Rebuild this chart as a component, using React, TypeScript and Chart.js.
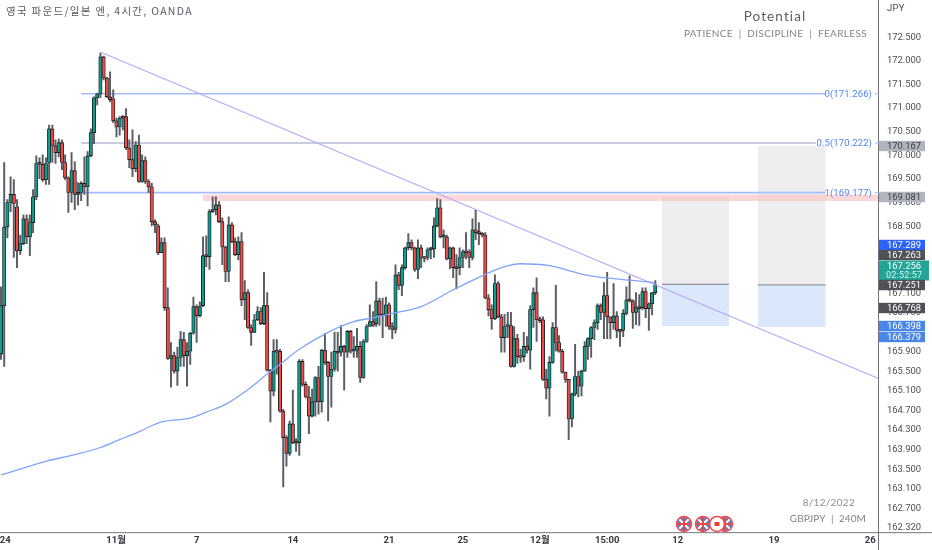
import React, { useEffect, useRef } from "react";
import { Chart, registerables } from "chart.js";

Chart.register(...registerables);

const opens = [165.82,166.82,168.46,168.97,169.14,168.88,167.96,168.11,168.63,168.25,168.55,169.09,169.79,169.77,169.45,169.81,170.52,170.16,170.02,170.23,169.81,169.49,169.18,169.64,169.14,169.18,169.37,169.30,169.95,170.44,171.18,171.26,172.05,171.60,171.20,171.16,170.69,170.56,170.78,170.78,170.12,169.87,169.68,170.18,169.41,169.85,169.41,169.30,168.57,168.48,167.92,168.13,166.78,165.73,165.79,165.47,165.75,166.12,165.79,165.88,166.25,166.80,166.61,166.82,167.86,167.84,168.78,168.82,168.92,168.57,168.04,167.53,168.50,168.15,167.88,168.15,166.94,167.09,166.37,166.27,166.53,166.70,166.45,166.82,165.49,165.06,165.88,165.88,164.65,164.11,163.79,164.39,164.01,164.01,165.67,165.20,164.94,164.55,164.84,165.34,164.84,165.90,165.65,165.36,165.51,165.88,165.86,165.98,165.86,166.29,165.88,165.90,165.98,165.34,166.08,166.39,166.49,166.45,166.92,166.63,166.61,166.84,166.39,166.33,167.46,167.24,167.61,168.02,168.13,168.02,167.57,168.02,167.82,167.82,167.98,168.00,168.48,168.86,168.25,168.25,167.79,168.02,167.61,167.61,167.82,167.94,167.94,167.82,168.40,168.34,168.32,168.29,166.98,166.74,166.55,167.28,166.59,166.16,166.39,166.41,165.57,166.14,165.77,165.77,165.98,165.90,166.74,167.09,166.53,166.53,165.30,165.12,165.65,166.37,166.06,165.88,165.45,165.30,164.49,165.00,165.36,165.16,165.47,165.98,166.14,166.37,166.47,166.82,166.68,167.03,166.59,166.47,166.61,166.31,166.31,166.66,166.94,166.92,166.68,166.78,166.78,167.11,166.76,166.86,167.09];
const closes = [166.82,168.46,168.97,169.14,168.95,167.96,168.11,168.63,168.25,168.55,169.09,169.79,169.77,169.45,169.79,170.52,170.16,170.02,170.23,169.81,169.49,169.18,169.64,169.14,169.18,169.37,169.30,169.95,170.44,171.18,171.26,172.05,171.60,171.20,171.14,170.69,170.56,170.75,170.75,170.12,169.87,169.68,170.18,169.41,169.85,169.41,169.30,168.57,168.50,167.92,168.13,166.78,165.73,165.79,165.47,165.75,166.12,165.79,165.88,166.25,166.80,166.61,166.80,167.86,167.84,168.78,168.82,168.92,168.57,168.04,167.53,168.50,168.15,167.88,168.15,166.94,167.09,166.37,166.27,166.53,166.70,166.45,166.82,165.49,165.06,165.88,165.86,164.65,164.11,163.79,164.39,164.01,164.00,165.67,165.20,164.94,164.55,164.84,165.34,164.84,165.90,165.65,165.36,165.51,165.88,165.84,165.98,165.86,166.29,165.88,165.92,165.98,165.34,166.08,166.39,166.49,166.41,166.92,166.63,166.61,166.84,166.39,166.33,167.46,167.24,167.61,168.02,168.13,168.02,167.57,168.02,167.82,167.80,167.98,168.00,168.48,168.86,168.25,168.27,167.79,168.02,167.61,167.59,167.82,167.94,167.92,167.82,168.40,168.34,168.32,168.29,166.98,166.74,166.55,167.28,166.59,166.16,166.39,166.41,165.57,166.14,165.77,165.75,165.98,165.90,166.74,167.09,166.53,166.51,165.30,165.12,165.65,166.37,166.06,165.88,165.45,165.30,164.49,165.00,165.36,165.16,165.47,165.98,166.14,166.37,166.47,166.82,166.68,167.03,166.59,166.47,166.61,166.31,166.29,166.66,166.94,166.92,166.68,166.78,166.76,167.11,166.76,166.86,167.09,167.256];
const highs = [167.21,169.81,169.03,169.51,169.45,169.03,168.29,168.71,168.71,168.71,169.24,169.95,169.91,169.97,169.91,170.60,170.60,170.29,170.31,170.29,169.97,169.51,170.02,169.83,169.39,169.41,169.93,170.04,170.52,171.20,171.28,172.14,172.07,171.62,171.73,171.35,170.75,170.78,170.80,170.95,170.29,170.50,170.25,170.39,169.97,169.93,169.45,169.37,168.61,168.52,168.23,168.23,167.19,166.06,165.86,165.96,166.29,166.27,166.06,166.27,167.00,166.84,166.90,168.25,168.27,168.82,169.09,169.09,168.99,168.65,168.06,168.67,168.55,168.23,168.25,168.34,167.34,167.15,166.43,166.64,166.80,166.78,167.51,167.09,165.51,166.12,166.12,165.92,164.69,164.15,164.45,165.08,164.09,165.71,165.71,165.25,165.16,165.10,165.36,165.57,165.92,166.25,165.67,165.86,166.27,166.27,166.41,166.00,166.31,166.31,166.18,166.35,166.08,166.12,166.43,166.84,166.70,167.32,166.98,166.98,167.00,166.88,166.47,167.67,167.51,167.67,168.04,168.32,168.19,168.04,168.19,168.08,167.84,168.02,168.04,168.65,169.05,169.03,168.40,168.29,168.04,168.04,167.88,168.02,167.98,168.34,167.98,168.63,168.82,168.55,168.34,168.34,167.05,166.84,167.46,167.32,166.64,166.64,166.68,166.68,166.39,166.23,165.92,166.27,166.18,166.82,167.19,167.40,166.59,166.59,165.51,165.77,166.47,167.24,166.20,165.92,165.45,165.30,165.02,166.02,165.47,165.49,166.08,166.16,166.39,166.53,166.86,166.86,167.30,167.51,166.59,167.28,166.70,166.33,166.74,167.21,167.44,166.94,167.09,167.05,167.19,167.19,166.88,167.09,167.34];
const lows = [165.71,165.57,168.23,168.78,167.82,167.61,167.88,168.09,168.11,167.86,168.34,169.03,169.47,169.41,169.35,169.35,169.81,169.79,169.93,169.66,169.45,168.76,168.97,168.82,168.92,169.01,169.14,168.90,169.93,170.21,171.03,171.18,171.56,171.18,171.09,170.65,170.35,170.39,170.50,170.08,169.70,169.51,169.62,169.39,169.39,169.37,169.18,168.48,168.34,167.88,167.92,166.72,165.71,165.14,165.43,165.18,165.57,165.57,165.16,165.61,166.23,166.06,166.59,166.80,167.63,167.57,168.76,168.71,168.55,167.67,167.32,167.32,168.13,167.86,167.77,166.82,166.53,166.35,166.00,166.27,166.51,166.43,166.43,165.47,164.43,164.96,165.41,164.63,163.11,163.53,163.75,163.99,163.83,163.75,165.16,164.92,164.19,164.53,164.55,164.59,164.63,165.61,164.45,164.73,165.47,165.47,165.78,165.08,165.75,165.84,165.75,165.75,165.24,165.32,166.06,166.39,166.39,166.39,166.41,166.16,166.39,166.33,166.14,166.25,167.15,167.03,167.57,167.98,167.98,167.53,167.38,167.61,167.73,167.77,167.79,167.82,168.46,168.23,168.02,167.77,167.59,167.40,167.17,167.46,167.61,167.79,167.61,167.77,168.19,168.09,168.25,166.96,166.61,166.33,166.53,166.57,165.86,165.86,166.16,165.55,165.55,165.63,165.65,165.67,165.84,165.51,166.37,166.08,166.47,165.28,164.90,164.55,165.63,165.88,165.86,165.43,165.24,164.07,164.33,164.96,164.94,164.96,165.47,165.71,165.75,166.12,166.33,166.53,166.14,166.14,166.14,166.33,166.16,165.98,166.18,166.63,166.90,166.35,166.43,166.41,166.74,166.57,166.31,166.63,167.05];

const maIndex = [0,14,22,31,37,43,50,59,64,70,78,82,87,93,102,110,116,125,131,141,150,157,162,171,177,182,191,204];
const maValues = [163.35,163.63,163.75,163.91,164.07,164.23,164.43,164.51,164.63,164.79,165.14,165.36,165.61,165.92,166.27,166.49,166.57,166.70,166.80,167.15,167.44,167.63,167.69,167.65,167.55,167.46,167.38,167.30];

const trendIndex = [31.5,273.6];
const trendValues = [172.14,165.32];

const fibLevels = [171.266,170.222,169.177];
const fibNames = ["0","0.5","1"];
const fibStart = 25;
const fibEnd = [257,254,257];

const zoneStart = 63;
const zonePrices = [169.135,169.0];

const boxLeft = [206.1,236];
const boxRight = [227,257.1];
const boxTop = [169.081,170.167];
const boxMid = [167.263,167.251];
const boxBottom = [166.398,166.379];

const xTickIndex = [1.3,35.9,61,91,121,144,168,189,211,241,271];
const xTickLabels = ["24","11월","7","14","21","25","12월","15:00","12","19","26"];

const yTicks = [172.5,172,171.5,171,170.5,170,169.5,169,168.5,167.1,166.7,165.9,165.5,165.1,164.7,164.3,163.9,163.5,163.1,162.7,162.32];

const tagLabels = ["170.167","169.081","167.289","167.263","167.256","167.251","166.768","166.398","166.379"];

const title = "영국 파운드/일본 엔, 4시간, OANDA";
const brand = "Potential";
const motto = "PATIENCE  |  DISCIPLINE  |  FEARLESS";
const dateNote = "8/12/2022";
const symbolNote = "GBPJPY  |  240M";
const currency = "JPY";
const countdown = "02:52:57";

const UP = "#0f9d8c";
const DOWN = "#ef4a45";
const FONT = "Roboto, 'Noto Sans', sans-serif";

const text = (ctx: any, s: string, x: number, y: number, font: string, color: string, align: any = "left", spacing = "0px") => {
  ctx.font = font;
  ctx.fillStyle = color;
  ctx.textAlign = align;
  ctx.textBaseline = "middle";
  ctx.letterSpacing = spacing;
  ctx.fillText(s, x, y + 0.8);
  ctx.letterSpacing = "0px";
};

const flag = (ctx: any, x: number, y: number, uk: boolean) => {
  ctx.save();
  ctx.beginPath();
  ctx.arc(x, y, 7, 0, Math.PI * 2);
  ctx.fillStyle = uk ? "#5b7fc4" : "#ffffff";
  ctx.fill();
  ctx.clip();
  if (uk) {
    ctx.strokeStyle = "#ffffff";
    ctx.lineWidth = 2;
    ctx.beginPath();
    ctx.moveTo(x - 7, y - 7);
    ctx.lineTo(x + 7, y + 7);
    ctx.moveTo(x + 7, y - 7);
    ctx.lineTo(x - 7, y + 7);
    ctx.stroke();
    ctx.strokeStyle = "#e64a4a";
    ctx.lineWidth = 2;
    ctx.beginPath();
    ctx.moveTo(x - 7, y);
    ctx.lineTo(x + 7, y);
    ctx.moveTo(x, y - 7);
    ctx.lineTo(x, y + 7);
    ctx.stroke();
  } else {
    ctx.fillStyle = "#ef3b3b";
    ctx.fillRect(x - 2.5, y - 2, 5, 4);
  }
  ctx.restore();
  ctx.beginPath();
  ctx.arc(x, y, 7.5, 0, Math.PI * 2);
  ctx.strokeStyle = "#f0484d";
  ctx.lineWidth = 1.5;
  ctx.stroke();
};

const zonesPlugin = {
  id: "zones",
  beforeDatasetsDraw(chart: any) {
    const { ctx, scales: { x, y }, chartArea: a } = chart;
    ctx.save();
    boxLeft.forEach((_, k) => {
      const l = x.getPixelForValue(boxLeft[k]);
      const r = x.getPixelForValue(boxRight[k]);
      const t = y.getPixelForValue(boxTop[k]);
      const m = y.getPixelForValue(boxMid[k]);
      const b = y.getPixelForValue(boxBottom[k]);
      ctx.fillStyle = "#eeeef1";
      ctx.fillRect(l, t, r - l, m - t);
      ctx.fillStyle = "#dbe7fb";
      ctx.fillRect(l, m, r - l, b - m);
      ctx.fillStyle = "#9a9ca3";
      ctx.fillRect(l, m - 0.7, r - l, 1.4);
    });
    const zt = y.getPixelForValue(zonePrices[0]);
    const zb = y.getPixelForValue(zonePrices[1]);
    const zl = x.getPixelForValue(zoneStart);
    ctx.fillStyle = "rgba(250,190,190,0.62)";
    ctx.fillRect(zl, zt, a.right - zl, zb - zt);
    ctx.restore();
  },
};

const overlayPlugin = {
  id: "overlay",
  afterDraw(chart: any) {
    const { ctx, scales: { y }, chartArea: a, width, height } = chart;
    ctx.save();
    ctx.fillStyle = "#8a8d94";
    ctx.fillRect(0, a.bottom - 0.5, width, 1.2);
    ctx.fillStyle = "#6f727a";
    ctx.fillRect(a.right - 0.5, 0, 1, height);

    text(ctx, title, 6, 10, "10.5px 'Noto Sans CJK KR', sans-serif", "#555a63", "left", "1.3px");
    text(ctx, brand, 775, 16, "13.5px Lato, sans-serif", "#5a5d64", "center", "1.1px");
    text(ctx, motto, 867, 33, "10px Lato, sans-serif", "#80848c", "right", "0.35px");
    text(ctx, dateNote, 855, 502, "10px Lato, sans-serif", "#8a8d94", "right", "0.3px");
    text(ctx, symbolNote, 866, 518, "10px Lato, sans-serif", "#7e8188", "right", "0.1px");
    text(ctx, currency, 887, 8, "9.5px " + FONT, "#444850", "left", "0.3px");

    fibLevels.forEach((lvl, k) => {
      const py = y.getPixelForValue(lvl);
      text(ctx, fibNames[k] + "(" + lvl.toFixed(3) + ")", 872, py, "9.5px " + FONT, "#4f86f7", "right", "0.1px");
      ctx.fillStyle = "#9db8f5";
      ctx.fillRect(875, py - 0.5, 4, 1);
    });

    const tagStyle = [
      { cy: 146, bg: "#b2b5be", fg: "#3a3d45" },
      { cy: 197, bg: "#b2b5be", fg: "#3a3d45" },
      { cy: 245, bg: "#2962ff", fg: "#ffffff" },
      { cy: 255, bg: "#4f5157", fg: "#ffffff" },
      { cy: 266, bg: "#22a596", fg: "#ffffff" },
      { cy: 285, bg: "#4f5157", fg: "#ffffff" },
      { cy: 308, bg: "#4f5157", fg: "#ffffff" },
      { cy: 326, bg: "#4a86e8", fg: "#ffffff" },
      { cy: 337, bg: "#4a86e8", fg: "#ffffff" },
    ];
    tagLabels.forEach((lab, k) => {
      const s = tagStyle[k];
      if (k === 4) {
        ctx.fillStyle = s.bg;
        ctx.fillRect(879, 260.5, 50, 20);
        text(ctx, lab, 887, 265.5, "9.4px " + FONT, s.fg, "left");
        text(ctx, countdown, 886, 275, "9px " + FONT, "#d8f3ef", "left", "0.2px");
      } else {
        ctx.fillStyle = s.bg;
        ctx.fillRect(879, s.cy - 5.2, 46, 10.4);
        text(ctx, lab, 887, s.cy - 0.3, "9.4px " + FONT, s.fg, "left");
      }
    });

    flag(ctx, 725, 524, true);
    flag(ctx, 684, 524, true);
    flag(ctx, 703, 524, true);
    flag(ctx, 717, 524, false);
    ctx.restore();
  },
};

const noPad = (s: any) => {
  s.paddingTop = 0;
  s.paddingBottom = 0;
  s.paddingLeft = 0;
  s.paddingRight = 0;
};

export default function App() {
  const ref = useRef<HTMLCanvasElement>(null);
  useEffect(() => {
    if (!ref.current) return;
    const idx = opens.map((_, i) => i);
    const lineBase = { type: "line", pointRadius: 0, fill: false, order: -1 };
    const chart = new Chart(ref.current, {
      type: "bar",
      data: {
        datasets: [
          {
            label: "wicks",
            data: idx.map((i) => ({ x: i, y: [lows[i], highs[i]] })),
            backgroundColor: "#5a5d63",
            barThickness: 1.3,
            grouped: false,
            order: 3,
          },
          {
            label: "bodies",
            data: idx.map((i) => ({ x: i, y: [opens[i], closes[i]] })),
            backgroundColor: idx.map((i) => (closes[i] >= opens[i] ? UP : DOWN)),
            borderColor: "#1c1f24",
            borderWidth: 0.9,
            borderSkipped: false,
            barThickness: 3.4,
            minBarLength: 2,
            grouped: false,
            order: 2,
          },
          {
            ...lineBase,
            label: "MA",
            data: maIndex.map((v, k) => ({ x: v, y: maValues[k] })),
            borderColor: "#7fa4fb",
            borderWidth: 1.3,
            cubicInterpolationMode: "monotone",
          },
          {
            ...lineBase,
            label: "trend",
            data: trendIndex.map((v, k) => ({ x: v, y: trendValues[k] })),
            borderColor: "#b3a8fb",
            borderWidth: 1.2,
          },
          ...fibLevels.map((lvl, k) => ({
            ...lineBase,
            label: "fib " + fibNames[k],
            data: [{ x: fibStart, y: lvl }, { x: fibEnd[k], y: lvl }],
            borderColor: k === 1 ? "#8f9cc0" : "#a2bdf9",
            borderWidth: k === 1 ? 1.1 : 1.6,
            order: 4,
          })),
        ] as any,
      },
      options: {
        animation: false,
        responsive: false,
        layout: { padding: 0 },
        plugins: { legend: { display: false }, tooltip: { enabled: false }, title: { display: false } },
        scales: {
          x: {
            type: "linear",
            offset: false,
            min: -0.31,
            max: 273.6,
            grid: { display: false, drawTicks: false },
            border: { display: false },
            afterBuildTicks: (s: any) => {
              s.ticks = xTickIndex.map((v) => ({ value: v }));
            },
            afterFit: (s: any) => {
              s.height = 17.5;
              noPad(s);
            },
            ticks: {
              autoSkip: false,
              maxRotation: 0,
              padding: 2,
              color: "#33363c",
              font: { family: "Roboto, 'Noto Sans CJK KR', sans-serif", size: 9.5, weight: "bold" },
              callback: (v: any) => xTickLabels[xTickIndex.indexOf(v)] ?? "",
            },
          },
          y: {
            type: "logarithmic",
            position: "right",
            min: 162.19,
            max: 173.27,
            bounds: "data",
            grid: { display: false, drawTicks: false },
            border: { display: false },
            afterBuildTicks: (s: any) => {
              s.ticks = yTicks.map((v) => ({ value: v }));
            },
            afterFit: (s: any) => {
              s.width = 53.5;
              noPad(s);
            },
            ticks: {
              autoSkip: false,
              padding: 8.5,
              color: "#4a4d55",
              font: { family: FONT, size: 9.4, lineHeight: 0.35 },
              callback: (v: any) => ["", Number(v).toFixed(3)],
            },
          },
        },
      } as any,
      plugins: [zonesPlugin, overlayPlugin],
    } as any);
    return () => chart.destroy();
  }, []);
  return (
    <div style={{ position: "fixed", left: 0, top: 0, width: 932, height: 550, background: "#ffffff" }}>
      <canvas ref={ref} width={932} height={550} style={{ display: "block", width: 932, height: 550 }} />
    </div>
  );
}
